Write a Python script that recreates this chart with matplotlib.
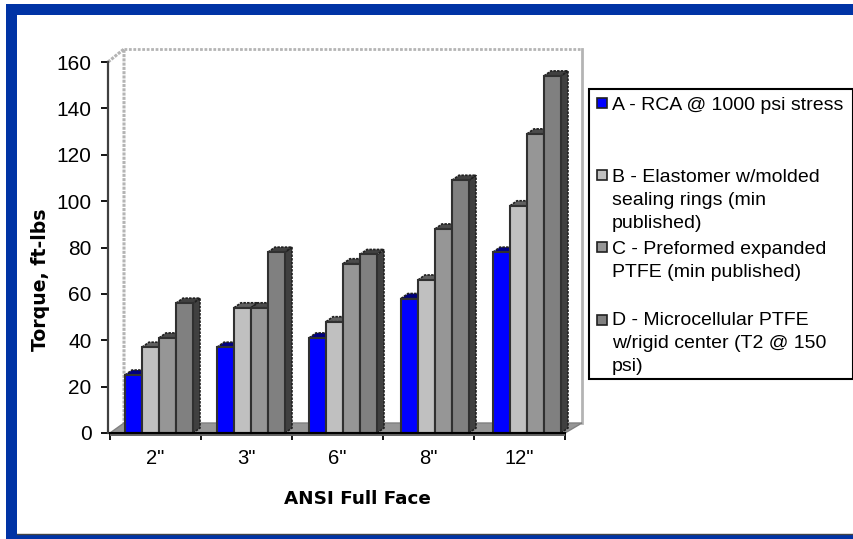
import matplotlib
matplotlib.use('Agg')
import matplotlib.pyplot as plt
from matplotlib.patches import Polygon, Rectangle

sizes = ['2"', '3"', '6"', '8"', '12"']
rca = [25, 37, 41, 58, 78]
elastomer = [37, 54, 48, 66, 98]
ptfe_c = [41, 54, 73, 88, 129]
ptfe_d = [56, 78, 77, 109, 154]
yticks = [0, 20, 40, 60, 80, 100, 120, 140, 160]
names = ['A - RCA @ 1000 psi stress',
         'B - Elastomer w/molded\nsealing rings (min\npublished)',
         'C - Preformed expanded\nPTFE (min published)',
         'D - Microcellular PTFE\nw/rigid center (T2 @ 150\npsi)']

W, H = 854, 539
front = ['#0000ff', '#c0c0c0', '#969696', '#808080']
tops = ['#000080', '#606060', '#4b4b4b', '#404040']
sides = ['#000080', '#606060', '#4b4b4b', '#404040']

plt.rcParams['font.family'] = ['Liberation Sans']
fig = plt.figure(figsize=(W / 100, H / 100), dpi=100)
bg = fig.add_axes([0, 0, 1, 1])
bg.set_xlim(0, W)
bg.set_ylim(H, 0)
bg.axis('off')

# blue slide frame
blue = '#0033a5'
bg.add_patch(Rectangle((6, 4), W - 6, 11, color=blue, lw=0))
bg.add_patch(Rectangle((6, 4), 11, H - 4, color=blue, lw=0))
bg.add_patch(Rectangle((17, 534), W - 17, 5, color=blue, lw=0))
bg.plot([17, W], [533.5, 533.5], color='#444444', lw=1)

ax = fig.add_axes([110 / W, 1 - 433 / H, 455 / W, 371 / H])
ax.set_xlim(0, 5)
ax.set_ylim(0, 160)
ax.patch.set_alpha(0)
pxx = 5 / 455
pxy = 160 / 371

# back wall and floor
wx, wy = 14 * pxx, 10 * pxy
wall = '#b4b4b4'
ax.plot([-2 * pxx, wx, wx], [160, 160 + 13 * pxy, wy], color=wall, lw=2.2,
        ls=(0, (1, 0.4)), clip_on=False, zorder=1)
ax.plot([wx, 5 + 17 * pxx], [160 + 13 * pxy] * 2, color=wall, lw=2,
        ls=(0, (1, 0.6)), clip_on=False, zorder=1)
ax.plot([5 + 17 * pxx] * 2, [160 + 13 * pxy, wy], color=wall, lw=2,
        clip_on=False, zorder=1)
ax.add_patch(Polygon([(0, 0), (5, 0), (5 + 17 * pxx, wy), (wx, wy)],
                     fc='#969696', ec='#808080', lw=1, clip_on=False, zorder=2))
ax.add_patch(Rectangle((0, -3 * pxy), 5, 4 * pxy, fc='#666666', lw=0,
                       clip_on=False, zorder=2))

# 3d bars
series = [rca, elastomer, ptfe_c, ptfe_d]
bw = 17 * pxx
off = 15 * pxx
pitch = 92 * pxx
dx, dy = 7 * pxx, 5 * pxy
z = 3
for i in range(len(sizes)):
    for j, vals in enumerate(series):
        x0 = i * pitch + off + j * bw
        v = vals[i]
        ax.add_patch(Polygon([(x0 + bw, 0), (x0 + bw + dx, dy), (x0 + bw + dx, v + dy), (x0 + bw, v)],
                             fc=sides[j], ec='#202020', lw=1.2, ls=(0, (1.5, 0.7)), clip_on=False, zorder=z))
        ax.add_patch(Polygon([(x0, v), (x0 + dx, v + dy), (x0 + bw + dx, v + dy), (x0 + bw, v)],
                             fc=tops[j], ec='#202020', lw=1.2, ls=(0, (1.5, 0.7)), clip_on=False, zorder=z))
        ax.bar(x0, v, bw, align='edge', color=front[j], edgecolor='#303030', lw=1.5,
               clip_on=False, zorder=z + 1)
        z += 2

for s in ['top', 'right']:
    ax.spines[s].set_visible(False)
ax.spines['left'].set_position(('outward', 1.4))
ax.spines['left'].set_linewidth(1.6)
ax.spines['left'].set_color('#404040')
ax.spines['bottom'].set_linewidth(1.5)
ax.spines['bottom'].set_zorder(300)
ax.spines['left'].set_zorder(300)
ax.set_yticks(yticks)
ax.set_xticks(range(6))
ax.set_xticklabels([])
ax.tick_params(axis='y', length=5, width=1.3, labelsize=15, pad=7)
ax.tick_params(axis='x', length=5, width=1.3)
for i, s in enumerate(sizes):
    ax.text(i + 0.5, -25 * pxy, s, ha='center', va='center', fontsize=14.5)

bg.text(357.5, 499, 'ANSI Full Face', ha='center', va='center', fontsize=13.2,
        fontweight='bold', family='DejaVu Sans')
bg.text(41, 351, 'Torque, ft-lbs', ha='center', va='bottom', rotation=90, fontsize=13.6,
        fontweight='bold', family='DejaVu Sans')

# legend box
bg.add_patch(Rectangle((589, 89), 264, 290, fc='white', ec='black', lw=1.5, zorder=5))
marker_y = [98, 170, 242, 315]
text_y = [97, 168.5, 241, 312]
for name, col, my, ty in zip(names, front, marker_y, text_y):
    bg.add_patch(Rectangle((597, my), 10, 10, fc=col, ec='#202020', lw=1.2, zorder=6))
    bg.text(612, ty, name, ha='left', va='top', fontsize=14, linespacing=1.47, zorder=6)

fig.savefig('out.png', dpi=100)
